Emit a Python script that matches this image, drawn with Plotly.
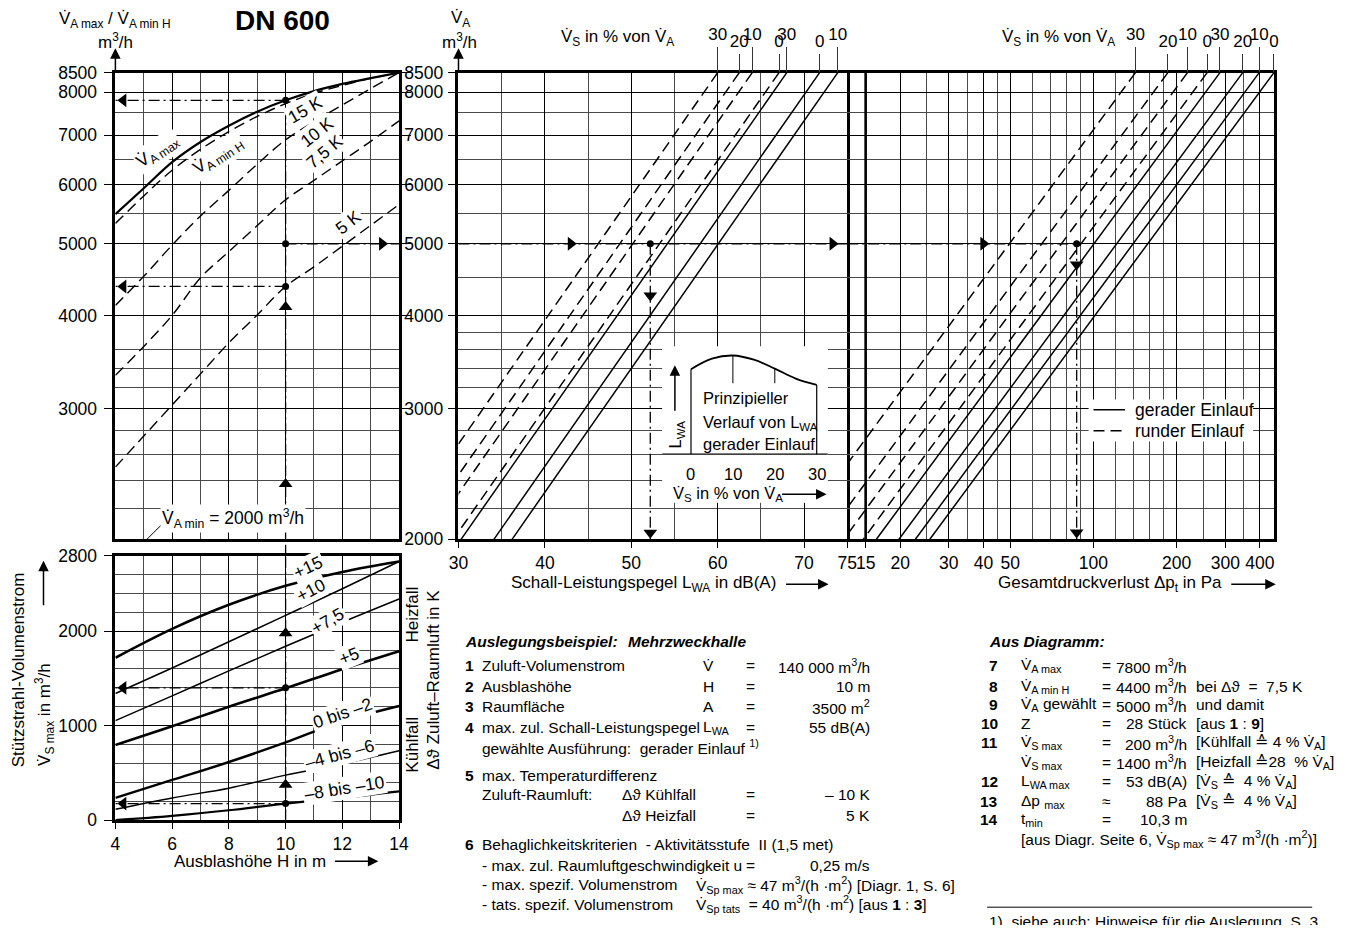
import math
import plotly.graph_objects as go

# The page keeps the browser's 8 px body margin, so the figure is 16 px smaller
# than the window and every reference pixel position is shifted by OFF.
PAGE_W, PAGE_H, OFF = 1351, 941, 8
W, HT = PAGE_W - 2 * OFF, PAGE_H - 2 * OFF
FONT = "Liberation Sans, Arial, sans-serif"
FS = 17.5    # tick labels / curve labels
FT = 17      # axis titles
FB = 15.5    # text blocks
lg = math.log10
Vd = "V\u0307"


def dx(p):
    return (p - OFF) / W


def dy(p):
    return 1 - (p - OFF) / HT


# ---------------- data ----------------
# top-left diagram: air volume V_A (m3/h) over outlet height H (m)
H_m = [4, 5, 6, 7, 8, 9, 10, 11, 12, 13, 14]
VA_max = [5480, 5940, 6440, 6855, 7210, 7530, 7800, 8026, 8207, 8357, 8500]
VA_min_15K = [5325, 5800, 6280, 6700, 7080, 7420, 7720, 7970, 8170, 8350, 8500]
VA_min_10K = [4130, 4520, 4980, 5450, 5900, 6400, 6900, 7300, 7690, 8090, 8500]
VA_min_75K = [3325, 3637, 4004, 4500, 4880, 5290, 5730, 6085, 6466, 6869, 7320]
VA_min_5K = [2502, 2755, 3033, 3340, 3678, 4010, 4380, 4655, 4963, 5294, 5646]

# bottom-left diagram: support jet volume V_S max (m3/h) over H (m)
H_s = [4, 6, 8, 10, 12, 14]
VS_p15 = [1719, 2025, 2280, 2480, 2627, 2738]
VS_p10 = [1340, 1610, 1888, 2168, 2450, 2738]
VS_p75 = [1053, 1315, 1580, 1840, 2095, 2341]
VS_p5 = [794, 994, 1201, 1395, 1598, 1788]
VS_0_m2 = [235, 425, 615, 822, 1046, 1208]
VS_m4_m6 = [114, 235, 338, 476, 597, 735]
VS_m8_m10 = [0, 45, 104, 175, 235, 304]
VS_widths = [2.6, 1.5, 1.5, 2.6, 2.4, 1.5, 2.2]

# middle diagram: sound power level (dB(A)) at V_A = 8500 and 2000 m3/h
VA_ends = [8500, 2000]
LWA_round_pct = [30, 20, 10, 0]
LWA_round = [[60.0, 22.3], [62.5, 24.8], [64.0, 26.3], [67.1, 29.4]]
LWA_straight_pct = [30, 0, 10]
LWA_straight = [[68.0, 30.3], [71.8, 34.1], [73.9, 36.2]]

# right diagram: total pressure loss (Pa) at V_A = 8500 and 2000 m3/h
DP_round_pct = [30, 20, 10, 0]
DP_round = [[142, 8.1], [186, 10.6], [219, 12.5], [258, 14.7]]
DP_straight_pct = [30, 20, 10, 0]
DP_straight = [[287, 16.4], [347, 19.8], [398, 22.7], [450, 25.6]]

# inset: principle course of L_WA over V_S in % of V_A (relative units)
inset_pct = [0, 5, 10, 15, 20, 25, 30]
inset_LWA = [0.81, 0.91, 0.94, 0.90, 0.815, 0.72, 0.66]

# worked example
ex_H = 10
ex_VA_max = 7800
ex_VA_minH = 4380
ex_VA_sel = 5000
ex_VS_heat = 1400
ex_VS_cool = 175
ex_LWA = 52.2
ex_dp = 87
ex_arrow_left_H = 4.28
ex_arrow_right_H = 13.4
ex_arrow_up_VA = [4110, 2375]
ex_arrow_up_VS = [1978, 373]
ex_arrow_right_L = [43.0, 73.3]
ex_arrow_right_dp = [40.0]
ex_arrow_down_mid = [4260, 2041]
ex_arrow_down_right = [4688, 2043]

# axes / tick values
VA_range = [2000, 8500]
VA_ticks_left = [3000, 4000, 5000, 6000, 7000, 8000, 8500]
VA_ticks_mid = [2000, 3000, 4000, 5000, 6000, 7000, 8000, 8500]
VA_grid_left = [2200, 2400, 2600, 2800, 3200, 3400, 3600, 4500, 5500, 6500, 7500]
VA_grid_mid = [2200, 2400, 2600, 2800, 3200, 3400, 3600, 3800, 4500, 5500, 6500, 7500]
H_range = [4, 14]
H_ticks = [4, 6, 8, 10, 12, 14]
H_grid = [5, 7, 9, 11, 13]
VS_range = [0, 2800]
VS_ticks = [0, 1000, 2000, 2800]
VS_grid = [200, 400, 600, 800, 1200, 1400, 1600, 1800, 2200, 2400, 2600]
L_range = [30, 75]
L_ticks = [30, 40, 50, 60, 70, 75]
L_grid = [35, 45, 55, 65]
DP_range = [12.87, 452]
DP_ticks = [15, 20, 30, 40, 50, 100, 200, 300, 400]
DP_grid = [25, 35, 45, 60, 70, 80, 90, 120, 140, 160, 180, 250, 350]
DP_frame = 15
INSET_x_range = [-6.9, 32.66]
INSET_y_range = [-0.463, 1.028]

DASH = "11px,6px"
DD = "11px,4px,2px,4px"

fig = go.Figure()


def line(x, y, xa, ya, width=1.4, dash=None, shape="linear"):
    fig.add_trace(go.Scatter(x=x, y=y, xaxis=xa, yaxis=ya, mode="lines",
                             line=dict(color="black", width=width, dash=dash, shape=shape),
                             showlegend=False, hoverinfo="skip"))


def marks(x, y, xa, ya, symbol, size=11):
    fig.add_trace(go.Scatter(x=x, y=y, xaxis=xa, yaxis=ya, mode="markers",
                             marker=dict(symbol=symbol, size=size, color="black", line=dict(width=0)),
                             showlegend=False, hoverinfo="skip", cliponaxis=False))


# ---- top-left ----
line(H_m, VA_max, "x", "y", 2.2, None, "spline")
for v in [VA_min_15K, VA_min_10K, VA_min_75K, VA_min_5K]:
    line(H_m, v, "x", "y", 1.4, DASH, "spline")
line([ex_H, ex_H], [VA_range[0], ex_VA_max], "x", "y", 1.3, DD)
line([ex_H, H_range[0]], [ex_VA_max, ex_VA_max], "x", "y", 1.3, DD)
line([ex_H, H_range[0]], [ex_VA_minH, ex_VA_minH], "x", "y", 1.3, DD)
line([ex_H, H_range[1]], [ex_VA_sel, ex_VA_sel], "x", "y", 1.3, DD)
marks([ex_H] * 3, [ex_VA_max, ex_VA_minH, ex_VA_sel], "x", "y", "circle", 7)
marks([ex_arrow_left_H] * 2, [ex_VA_max, ex_VA_minH], "x", "y", "triangle-left", 12)
marks([ex_arrow_right_H], [ex_VA_sel], "x", "y", "triangle-right", 12)
marks([ex_H] * 2, ex_arrow_up_VA, "x", "y", "triangle-up", 12)

# ---- bottom-left ----
for v, w in zip([VS_p15, VS_p10, VS_p75, VS_p5, VS_0_m2, VS_m4_m6, VS_m8_m10], VS_widths):
    line(H_s, v, "x2", "y2", w, None, "spline")
line([ex_H, ex_H], VS_range, "x2", "y2", 1.3, DD)
line([ex_H, H_range[0]], [ex_VS_heat, ex_VS_heat], "x2", "y2", 1.3, DD)
line([ex_H, H_range[0]], [ex_VS_cool, ex_VS_cool], "x2", "y2", 1.3, DD)
marks([ex_H] * 2, [ex_VS_heat, ex_VS_cool], "x2", "y2", "circle", 7)
marks([ex_arrow_left_H] * 2, [ex_VS_heat, ex_VS_cool], "x2", "y2", "triangle-left", 12)
marks([ex_H] * 2, ex_arrow_up_VS, "x2", "y2", "triangle-up", 12)

# ---- middle: sound power ----
for L in LWA_round:
    line(L, VA_ends, "x4", "y4", 1.5, DASH)
for L in LWA_straight:
    line(L, VA_ends, "x4", "y4", 1.5)
line(L_range, [ex_VA_sel, ex_VA_sel], "x4", "y4", 1.3, DD)
line([ex_LWA, ex_LWA], [ex_VA_sel, VA_range[0]], "x4", "y4", 1.3, DD)
marks([ex_LWA], [ex_VA_sel], "x4", "y4", "circle", 7)
marks(ex_arrow_right_L, [ex_VA_sel] * 2, "x4", "y4", "triangle-right", 12)
marks([ex_LWA] * 2, ex_arrow_down_mid, "x4", "y4", "triangle-down", 12)

# ---- right: pressure loss ----
for p in DP_round:
    line(p, VA_ends, "x5", "y5", 1.5, DASH)
for p in DP_straight:
    line(p, VA_ends, "x5", "y5", 1.5)
line([DP_frame, DP_frame], VA_range, "x5", "y5", 2.6)
line([DP_range[0], ex_dp], [ex_VA_sel, ex_VA_sel], "x5", "y5", 1.3, DD)
line([ex_dp, ex_dp], [ex_VA_sel, VA_range[0]], "x5", "y5", 1.3, DD)
marks([ex_dp], [ex_VA_sel], "x5", "y5", "circle", 7)
marks(ex_arrow_right_dp, [ex_VA_sel], "x5", "y5", "triangle-right", 12)
marks([ex_dp] * 2, ex_arrow_down_right, "x5", "y5", "triangle-down", 12)

# ---- inset ----
line(inset_pct, inset_LWA, "x6", "y6", 1.8, None, "spline")
line([inset_pct[0]] * 2, [0, inset_LWA[0]], "x6", "y6", 1.2)
line([inset_pct[-1]] * 2, [0, inset_LWA[-1]], "x6", "y6", 1.2)
line([inset_pct[2]] * 2, [0.676, inset_LWA[2]], "x6", "y6", 1.0)
line([inset_pct[4]] * 2, [0.676, inset_LWA[4]], "x6", "y6", 1.0)
line(INSET_x_range, [0, 0], "x6", "y6", 1.2)

# empty traces for the overlay tick axes
for xa, ya in [("x7", "y4"), ("x8", "y4"), ("x9", "y5"), ("x10", "y5")]:
    fig.add_trace(go.Scatter(x=[None], y=[None], xaxis=xa, yaxis=ya, showlegend=False, hoverinfo="skip"))

TF = dict(family=FONT, size=FS, color="black")
AX = dict(showline=True, linecolor="black", linewidth=2.6, mirror=True, zeroline=False,
          gridcolor="black", gridwidth=1.3, tickfont=TF, tickcolor="black", tickwidth=1.4,
          tickangle=0)
MINOR = dict(showgrid=True, gridcolor="#4a4a4a", gridwidth=1, ticks="")

dom_top = [dy(549), dy(72)]
dom_left = [dx(115), dx(403)]

mid_ticks = sorted([(L[0], str(p)) for L, p in zip(LWA_round, LWA_round_pct)] +
                   [(L[0], str(p)) for L, p in zip(LWA_straight, LWA_straight_pct)])
dp_ticks = sorted([(P[0], str(p)) for P, p in zip(DP_round, DP_round_pct)] +
                  [(P[0], str(p)) for P, p in zip(DP_straight, DP_straight_pct)])


def top_axis(over, anchor, ticks, row, axtype, rng):
    sel = ticks[row::2]
    return dict(overlaying=over, anchor=anchor, side="top", type=axtype, range=rng,
                tickvals=[t[0] for t in sel], ticktext=[t[1] for t in sel],
                ticks="outside", ticklen=25 if row == 0 else 18, tickwidth=1.1, tickcolor="#333",
                showgrid=False, showline=False, zeroline=False, tickangle=0,
                ticklabelstandoff=0,
                tickfont=dict(family=FONT, size=17, color="black"))


fig.update_layout(
    width=W, height=HT, margin=dict(l=0, r=0, t=0, b=0),
    paper_bgcolor="white", plot_bgcolor="white", showlegend=False, hovermode=False,
    xaxis=dict(AX, domain=dom_left, range=H_range, anchor="y", tickvals=H_ticks,
               showticklabels=False, ticks="", minor=dict(MINOR, tickvals=H_grid)),
    yaxis=dict(AX, domain=dom_top, type="log", range=[lg(VA_range[0]), lg(VA_range[1])], anchor="x",
               tickvals=VA_ticks_left, ticktext=[str(v) for v in VA_ticks_left],
               ticks="outside", ticklen=9, mirror="ticks", ticklabelstandoff=3,
               minor=dict(MINOR, tickvals=VA_grid_left)),
    xaxis2=dict(AX, domain=dom_left, range=H_range, anchor="y2", tickvals=H_ticks,
                ticks="outside", ticklen=6, minor=dict(MINOR, tickvals=H_grid)),
    yaxis2=dict(AX, domain=[dy(836), dy(565.7)], range=VS_range, anchor="x2", tickvals=VS_ticks,
                ticks="outside", ticklen=9, ticklabelstandoff=3, minor=dict(MINOR, tickvals=VS_grid)),
    xaxis4=dict(AX, domain=[dx(463.3), dx(858)], range=L_range, anchor="y4", tickvals=L_ticks,
                ticks="outside", ticklen=6, minor=dict(MINOR, tickvals=L_grid)),
    yaxis4=dict(AX, domain=dom_top, type="log", range=[lg(VA_range[0]), lg(VA_range[1])], anchor="x4",
                tickvals=VA_ticks_mid, ticktext=[str(v) for v in VA_ticks_mid],
                ticks="outside", ticklen=8, ticklabelstandoff=1,
                minor=dict(MINOR, tickvals=VA_grid_mid)),
    xaxis5=dict(AX, domain=[dx(858), dx(1291.7)], type="log", range=[lg(DP_range[0]), lg(DP_range[1])],
                anchor="y5", tickvals=DP_ticks, ticks="outside", ticklen=6,
                minor=dict(MINOR, tickvals=DP_grid)),
    yaxis5=dict(AX, domain=dom_top, type="log", range=[lg(VA_range[0]), lg(VA_range[1])], anchor="x5",
                side="right", mirror=False,
                tickvals=VA_ticks_mid, showticklabels=False, ticks="",
                minor=dict(MINOR, tickvals=VA_grid_mid)),
    xaxis6=dict(domain=[dx(670), dx(838.3)], range=INSET_x_range, anchor="y6", visible=False),
    yaxis6=dict(domain=[dy(511.7), dy(351.7)], range=INSET_y_range, anchor="x6", visible=False),
    xaxis7=top_axis("x4", "y4", mid_ticks, 0, "linear", L_range),
    xaxis8=top_axis("x4", "y4", mid_ticks, 1, "linear", L_range),
    xaxis9=top_axis("x5", "y5", dp_ticks, 0, "log", [lg(DP_range[0]), lg(DP_range[1])]),
    xaxis10=top_axis("x5", "y5", dp_ticks, 1, "log", [lg(DP_range[0]), lg(DP_range[1])]),
)

ann = []


def T(text, x, y, size=FS, xa="center", ya="middle", angle=0, bg=None):
    a = dict(text=text, x=dx(x), y=dy(y), xref="paper", yref="paper", showarrow=False,
             xanchor=xa, yanchor=ya, textangle=angle,
             font=dict(family=FONT, size=size, color="black"))
    if bg:
        a.update(bgcolor=bg, borderpad=1)
    ann.append(a)


def A(x0, y0, x1, y1):
    # arrow from tail (x0, y0) to tip (x1, y1), pixel positions on the page
    ann.append(dict(x=dx(x1), y=dy(y1), ax=x0 - x1, ay=y0 - y1, xref="paper", yref="paper",
                    axref="pixel", ayref="pixel", showarrow=True, text="",
                    arrowhead=2, arrowsize=1.4, arrowwidth=1.5, arrowcolor="black"))


# titles
T("<b>DN 600</b>", 285, 19, 28)
T(f"{Vd}<sub>A max</sub> / {Vd}<sub>A min H</sub>", 115, 18, FT)
T("m<sup>3</sup>/h", 115, 40, FT)
T(f"{Vd}<sub>A</sub>", 465, 17, FT)
T("m<sup>3</sup>/h", 464, 40, FT)
T(f"{Vd}<sub>S</sub> in % von {Vd}<sub>A</sub>", 625, 37, FT)
T(f"{Vd}<sub>S</sub> in % von {Vd}<sub>A</sub>", 1072, 37, FT)
T("Schall-Leistungspegel L<sub>WA</sub> in dB(A)", 651, 595, FT)
T("Gesamtdruckverlust \u0394p<sub>t</sub> in Pa", 1125, 595, FT)
T("Ausblashöhe H in m", 252, 878, FT)
T("Stützstrahl-Volumenstrom", 17, 682, FT, angle=-90)
T(f"{Vd}<sub>S max</sub> in m<sup>3</sup>/h", 43, 728, FT, angle=-90)
T("Heizfall", 417, 626, FT, angle=-90)
T("Kühlfall", 417, 759, FT, angle=-90)
T("\u0394\u03d1 Zuluft\u2013Raumluft in K", 438, 693, FT, angle=-90)

# curve labels top-left
T("15 K", 307, 110, FS, angle=-30, bg="white")
T("10 K", 320, 133, FS, angle=-38, bg="white")
T("7,5 K", 327, 153, FS, angle=-40, bg="white")
T("5 K", 352, 225, FS, angle=-38, bg="white")
T(f"{Vd}<sub>A max</sub>", 158, 153, FS, angle=-34, bg="white")
T(f"{Vd}<sub>A min H</sub>", 220, 157, FS, angle=-33, bg="white")
T(f"{Vd}<sub>A min</sub> = 2000 m<sup>3</sup>/h", 234, 528, FS, bg="white")

# curve labels bottom-left
VS_labels = ["+15", "+10", "+7,5", "+5", "0 bis \u20132", "\u20134 bis \u20136", "\u20138 bis \u201310"]
VS_label_pos = [(311, 577, -25), (314, 601, -28), (330, 632, -30), (352, 668, -22),
                (346, 727, -19), (343, 768, -15), (348, 803, -9)]
for t, (x, y, a) in zip(VS_labels, VS_label_pos):
    T(t, x, y, FS, angle=a, bg="white")

# inset texts
T("Prinzipieller", 710, 405, 16.5, xa="left")
T("Verlauf von L<sub>WA</sub>", 710, 430, 16.5, xa="left")
T("gerader Einlauf", 710, 452, 16.5, xa="left")
for t, x in zip(["0", "10", "20", "30"], [699, 742, 785, 827]):
    T(t, x, 482, 16.5)
T(f"{Vd}<sub>S</sub> in % von {Vd}<sub>A</sub>", 737, 503, 16.5)
T("L<sub>WA</sub>", 684, 442, 16.5, angle=-90)

# legend texts
T("gerader Einlauf", 1148, 417, FS, xa="left")
T("runder Einlauf", 1148, 438, FS, xa="left")

# axis arrows
A(115, 72, 115, 47)
A(463.3, 72, 463.3, 47)
A(42, 617, 42, 571)
A(337, 878, 382, 878)
A(795, 595, 839, 595)
A(1247, 595, 1293, 595)
A(683, 418, 683, 371)
A(791, 503, 837, 503)

# text block: Auslegungsbeispiel
T("<b><i>Auslegungsbeispiel:</i></b>", 468, 653, FB, xa="left")
T("<b><i>Mehrzweckhalle</i></b>", 633, 653, FB, xa="left")
blk1_num = ["1", "2", "3", "4"]
blk1_lbl = ["Zuluft-Volumenstrom", "Ausblashöhe", "Raumfläche", "max. zul. Schall-Leistungspegel"]
blk1_sym = [Vd, "H", "A", "L<sub>WA</sub>"]
blk1_val = ["140 000 m<sup>3</sup>/h", "10 m", "3500 m<sup>2</sup>", "55 dB(A)"]
blk1_y = [678, 699, 720, 741]
for n, l, s, v, y in zip(blk1_num, blk1_lbl, blk1_sym, blk1_val, blk1_y):
    T(f"<b>{n}</b>", 468, y, FB, xa="left")
    T(l, 485, y, FB, xa="left")
    T(s, 710, y, FB, xa="left")
    T("=", 760, y, FB)
    T(v, 883, y, FB, xa="right")
T("gewählte Ausführung:  gerader Einlauf <sup>1)</sup>", 485, 761, FB, xa="left")
T("<b>5</b>", 468, 790, FB, xa="left")
T("max. Temperaturdifferenz", 485, 790, FB, xa="left")
T("Zuluft-Raumluft:", 485, 810, FB, xa="left")
T("\u0394\u03d1 Kühlfall", 627, 810, FB, xa="left")
T("=", 760, 810, FB)
T("\u2013 10 K", 883, 810, FB, xa="right")
T("\u0394\u03d1 Heizfall", 627, 831, FB, xa="left")
T("=", 760, 831, FB)
T("5 K", 883, 831, FB, xa="right")
T("<b>6</b>", 468, 861, FB, xa="left")
T("Behaglichkeitskriterien  - Aktivitätsstufe  II (1,5 met)", 485, 861, FB, xa="left")
T("- max. zul. Raumluftgeschwindigkeit u", 485, 882, FB, xa="left")
T("=", 760, 882, FB)
T("0,25 m/s", 883, 882, FB, xa="right")
T("- max. spezif. Volumenstrom", 485, 902, FB, xa="left")
T(f"{Vd}<sub>Sp max</sub> \u2248 47 m<sup>3</sup>/(h \u00b7m<sup>2</sup>) [Diagr. 1, S. 6]", 702, 902, FB, xa="left")
T("- tats. spezif. Volumenstrom", 485, 922, FB, xa="left")
T(f"{Vd}<sub>Sp tats</sub>  = 40 m<sup>3</sup>/(h \u00b7m<sup>2</sup>) [aus <b>1</b> : <b>3</b>]", 702, 922, FB, xa="left")

# text block: Aus Diagramm
T("<b><i>Aus Diagramm:</i></b>", 1000, 653, FB, xa="left")
blk2_num = ["7", "8", "9", "10", "11", "", "12", "13", "14"]
blk2_sym = [f"{Vd}<sub>A max</sub>", f"{Vd}<sub>A min H</sub>", f"{Vd}<sub>A</sub> gewählt", "Z",
            f"{Vd}<sub>S max</sub>", f"{Vd}<sub>S max</sub>", "L<sub>WA max</sub>",
            "\u0394p <sub>max</sub>", "t<sub>min</sub>"]
blk2_eq = ["=", "=", "=", "=", "=", "=", "=", "\u2248", "="]
blk2_val = ["7800 m<sup>3</sup>/h", "4400 m<sup>3</sup>/h", "5000 m<sup>3</sup>/h", "28 Stück",
            "200 m<sup>3</sup>/h", "1400 m<sup>3</sup>/h", "53 dB(A)", "88 Pa", "10,3 m"]
blk2_ext = ["", "bei \u0394\u03d1  =  7,5 K", "und damit", "[aus <b>1</b> : <b>9</b>]",
            f"[Kühlfall \u2259 4 % {Vd}<sub>A</sub>]", f"[Heizfall \u225928  % {Vd}<sub>A</sub>]",
            f"[{Vd}<sub>S</sub> \u2259  4 % {Vd}<sub>A</sub>]", f"[{Vd}<sub>S</sub> \u2259  4 % {Vd}<sub>A</sub>]", ""]
blk2_y = [678, 699, 718, 737, 757, 777, 797, 817, 835]
for n, s, e, v, x, y in zip(blk2_num, blk2_sym, blk2_eq, blk2_val, blk2_ext, blk2_y):
    if n:
        T(f"<b>{n}</b>", 1013, y, FB, xa="right")
    T(s, 1032, y, FB, xa="left")
    T(e, 1115, y, FB, xa="left")
    T(v, 1205, y, FB, xa="right")
    if x:
        T(x, 1210, y, FB, xa="left")
T(f"[aus Diagr. Seite 6, {Vd}<sub>Sp max</sub> \u2248 47 m<sup>3</sup>/(h \u00b7m<sup>2</sup>)]", 1032, 855, FB, xa="left")
T("1)  siehe auch: Hinweise für die Auslegung, S. 3", 1000, 929, FB, xa="left", ya="top")

fig.update_layout(annotations=ann)

shapes = [
    # legend box in right diagram
    dict(type="rect", xref="paper", yref="paper", x0=dx(1103), x1=dx(1270), y0=dy(449), y1=dy(406),
         fillcolor="white", line=dict(width=0), layer="above"),
    dict(type="line", xref="paper", yref="paper", x0=dx(1108), x1=dx(1140), y0=dy(416.7), y1=dy(416.7),
         line=dict(color="black", width=1.5), layer="above"),
    dict(type="line", xref="paper", yref="paper", x0=dx(1108), x1=dx(1140), y0=dy(438), y1=dy(438),
         line=dict(color="black", width=1.5, dash="11px,6px"), layer="above"),
    # leader line of V_A min label
    dict(type="line", xref="paper", yref="paper", x0=dx(147), x1=dx(167), y0=dy(549), y1=dy(529),
         line=dict(color="black", width=1), layer="above"),
    # example path continuing through the gap between the two left diagrams
    dict(type="line", xref="x2", yref="paper", x0=ex_H, x1=ex_H, y0=dy(565.7), y1=dy(549),
         line=dict(color="black", width=1.3, dash=DD), layer="above"),
    # footnote rule
    dict(type="line", xref="paper", yref="paper", x0=dx(1000), x1=dx(1330), y0=dy(925), y1=dy(925),
         line=dict(color="black", width=1), layer="above"),
]
fig.update_layout(shapes=shapes)

fig.write_html("out.html")
